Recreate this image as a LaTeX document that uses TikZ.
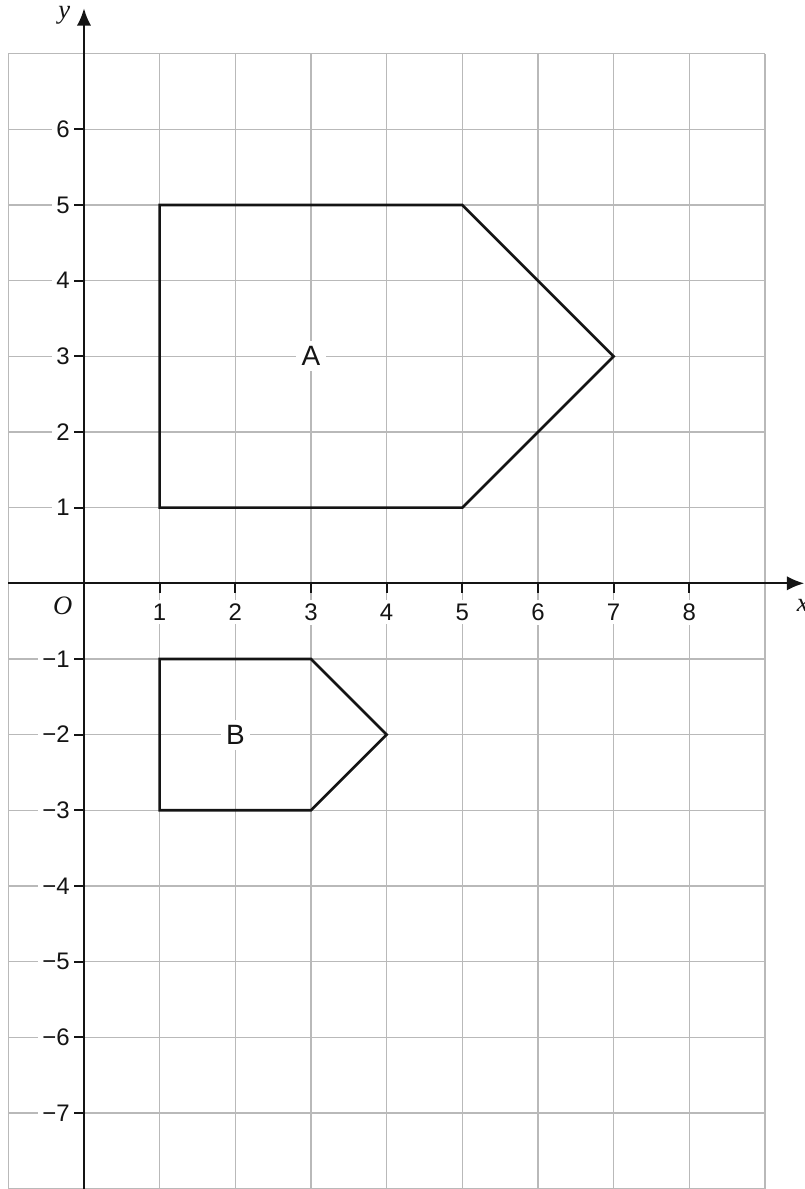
\documentclass[tikz,border=0pt]{standalone}
\usepackage{fontspec}
\setmainfont{Liberation Sans}
\newfontfamily\cgserif{Liberation Serif}
\usetikzlibrary{arrows.meta}
\definecolor{CgGrid}{RGB}{185,185,185}
\definecolor{CgInk}{RGB}{20,20,20}
\tikzset{
  cg/gridline/.style={draw=CgGrid, line width=0.55pt},
  cg/axis/.style={draw=CgInk, line width=0.85pt, -{Latex[length=2.3mm,width=1.9mm]}},
  cg/tick/.style={draw=CgInk, line width=0.7pt},
  cg/shape/.style={draw=CgInk, line width=1pt, line join=miter},
  cg/num/.style={font=\fontsize{9}{11}\selectfont, text=CgInk, fill=white, inner sep=1.5pt},
  cg/var/.style={font=\fontsize{10}{12}\selectfont\cgserif\itshape, text=CgInk, inner sep=0pt},
  cg/name/.style={font=\fontsize{10.5}{12}\selectfont, text=CgInk, fill=white, inner sep=2pt}
}

\begin{document}
\begin{tikzpicture}[x=1cm,y=1cm]
  \useasboundingbox (-1.110,-8.005) rectangle (9.528,7.709);
  % grid
  \draw[cg/gridline] (-1,-8.2) grid (9,7);
  % axes
  \draw[cg/axis] (-1,0) -- (9.52,0);
  \draw[cg/axis] (0,-8.2) -- (0,7.6);
  \node[cg/var] (xlab) at (9.5,-0.29) {x};
  \node[cg/var] (ylab) at (-0.26,7.51) {y};
  \node[cg/var] (origin) at (-0.28,-0.30) {O};
  % ticks on x
  \foreach \x in {1,...,8} {
    \node[cg/num,anchor=north] (xnum\x) at (\x,-0.21) {\x};
    \draw[cg/tick] (\x,0) -- (\x,-0.13);
  }
  % ticks on y
  \foreach \y in {1,...,6} {
    \node[cg/num,anchor=east] (ynum\y) at (-0.13,\y) {\y};
    \draw[cg/tick] (0,\y) -- (-0.13,\y);
  }
  \foreach \y in {1,...,7} {
    \node[cg/num,anchor=east] (ynumneg\y) at (-0.13,-\y) {−\y};
    \draw[cg/tick] (0,-\y) -- (-0.13,-\y);
  }
  % shape A
  \draw[cg/shape] (1,1) -- (1,5) -- (5,5) -- (7,3) -- (5,1) -- cycle;
  \node[cg/name] (nameA) at (3,3) {A};
  % shape B
  \draw[cg/shape] (1,-1) -- (3,-1) -- (4,-2) -- (3,-3) -- (1,-3) -- cycle;
  \node[cg/name] (nameB) at (2,-2) {B};
\end{tikzpicture}
\end{document}
